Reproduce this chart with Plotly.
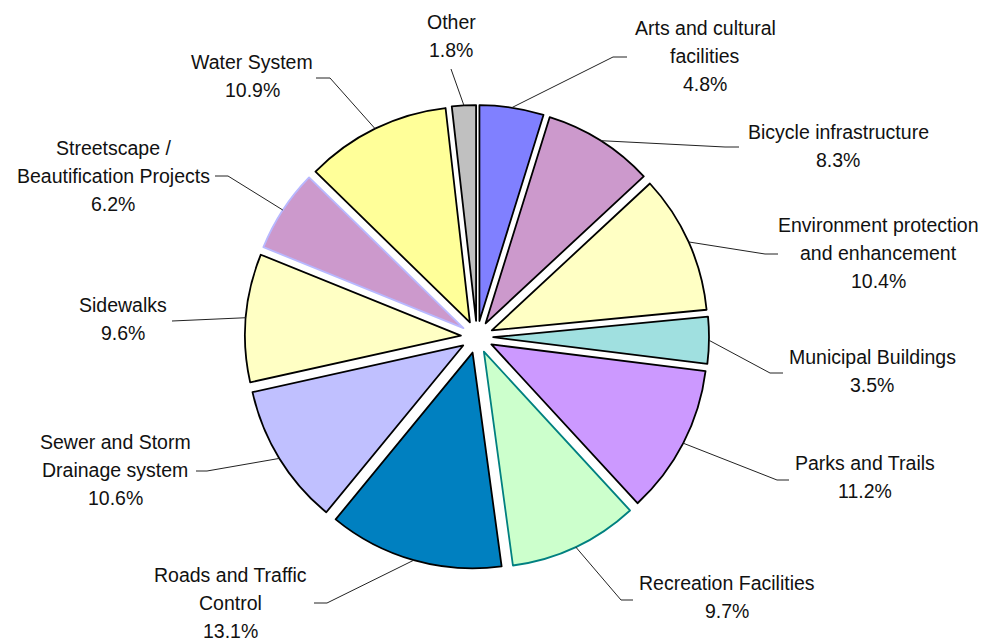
import math
import plotly.graph_objects as go

# ---- data ----
categories = [
    "Arts and cultural\nfacilities",
    "Bicycle infrastructure",
    "Environment protection\nand enhancement",
    "Municipal Buildings",
    "Parks and Trails",
    "Recreation Facilities",
    "Roads and Traffic\nControl",
    "Sewer and Storm\nDrainage system",
    "Sidewalks",
    "Streetscape /\nBeautification Projects",
    "Water System",
    "Other",
]
values = [4.8, 8.3, 10.4, 3.5, 11.2, 9.7, 13.1, 10.6, 9.6, 6.2, 10.9, 1.8]

# ---- styles / layout ----
colors = ["#8080FF", "#CC99CC", "#FFFFC4", "#A0E0E0", "#CC99FF", "#CCFFCC",
          "#0080C0", "#C0C0FF", "#FFFFC4", "#CC99CC", "#FFFF99", "#C0C0C0"]
edge_colors = ["#000000"] * 5 + ["#008080"] + ["#000000"] * 3 + ["#B8B8FF"] + ["#000000"] * 2

W, H = 989, 641
CX, CY = 477, 337          # pie centre (px)
HALF = 232                 # half size of pie domain (px)
PULL = 0.075

# label placement (px): text centre x, first line centre y
label_x = [705, 838, 878, 872, 865, 727, 230, 115, 123, 113, 252, 451]
label_y = [28, 132, 225, 357, 463, 583, 575, 442, 305, 148, 62, 22]
LINE_STEP = 28
# leader line end (px) and horizontal stub length toward the pie
lead_end = [(627, 57), (739, 147), (778, 254), (783, 373), (789, 480), (633, 600),
            (314, 603), (196, 471), (172, 321), (215, 176), (316, 78), (451, 69)]
stub = [14, 14, 13, 13, 12, 12, 13, 11, 0, 13, 14, 0]

FONT = "Liberation Sans, Arial, sans-serif"
FS = 19.5

fig = go.Figure()
fig.add_trace(go.Pie(
    labels=[c.replace("\n", " ") for c in categories],
    values=values,
    sort=False,
    direction="clockwise",
    rotation=0,
    pull=[PULL] * len(values),
    marker=dict(colors=colors, line=dict(color=edge_colors, width=1.8)),
    textinfo="none",
    hoverinfo="label+value",
    showlegend=False,
    domain=dict(x=[(CX - HALF) / W, (CX + HALF) / W],
                y=[1 - (CY + HALF) / H, 1 - (CY - HALF) / H]),
))

def px(x, y):
    return x / W, 1 - y / H

total = sum(values)
r_out = HALF  # outer edge of pulled slice
cum = 0.0
shapes = []
annotations = []
for i, (cat, v) in enumerate(zip(categories, values)):
    mid = (cum + v / 2) / total * 2 * math.pi
    cum += v
    sx = CX + r_out * math.sin(mid)
    sy = CY - r_out * math.cos(mid)
    ex, ey = lead_end[i]
    d = 1 if ex > CX else -1
    elx = ex - d * stub[i]
    x0, y0 = px(sx, sy)
    x1, y1 = px(elx, ey)
    x2, y2 = px(ex, ey)
    path = f"M {x0},{y0} L {x1},{y1} L {x2},{y2}"
    shapes.append(dict(type="path", path=path, xref="paper", yref="paper",
                       line=dict(color="#222222", width=1)))
    lines = cat.split("\n") + [f"{v:.1f}%"]
    for j, t in enumerate(lines):
        ax, ay = px(label_x[i], label_y[i] + j * LINE_STEP)
        annotations.append(dict(text=t, x=ax, y=ay, xref="paper", yref="paper",
                                showarrow=False, xanchor="center", yanchor="middle",
                                font=dict(family=FONT, size=FS, color="#111111")))

fig.update_layout(
    width=W, height=H,
    margin=dict(l=0, r=0, t=0, b=0),
    paper_bgcolor="white",
    plot_bgcolor="white",
    shapes=shapes,
    annotations=annotations,
)

fig.write_html("out.html",
               config={"displayModeBar": False},
               post_script="document.body.style.margin='0';document.body.style.overflow='hidden';")
